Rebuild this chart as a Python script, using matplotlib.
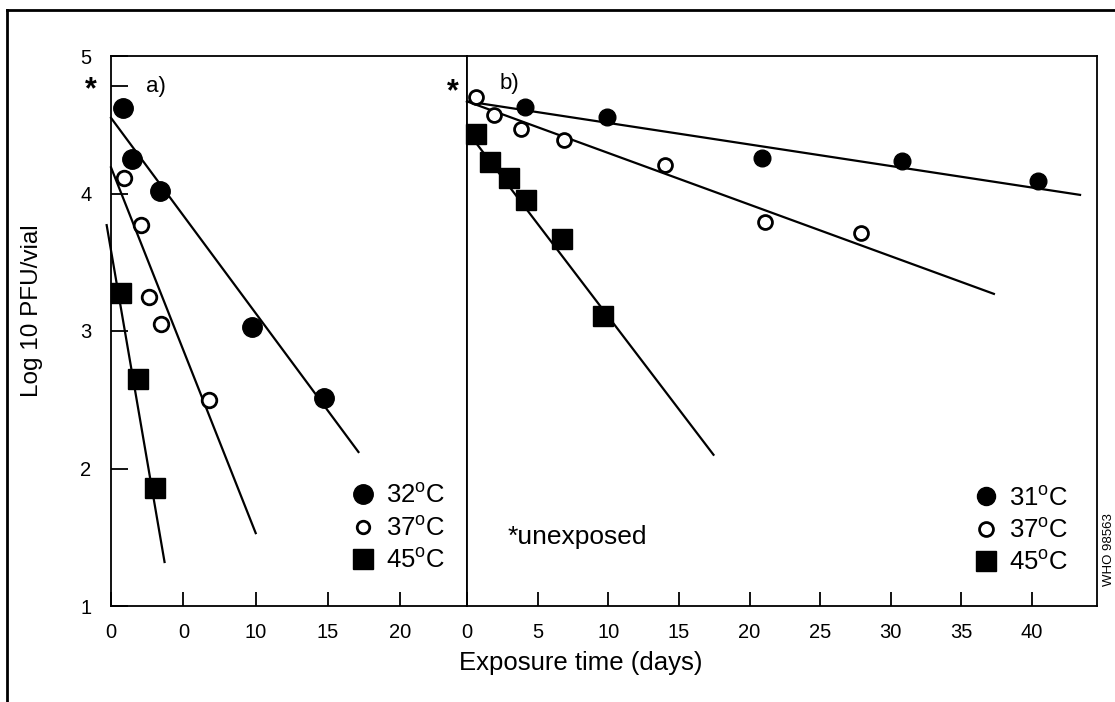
import matplotlib.pyplot as plt
from matplotlib.lines import Line2D

plt.rcParams['font.family'] = ['Liberation Sans', 'DejaVu Sans']
plt.rcParams['mathtext.fontset'] = 'custom'
plt.rcParams['mathtext.rm'] = 'Liberation Sans'

# Panel a) data
a32_x = [0.8, 1.45, 3.4, 9.75, 14.7]
a32_y = [4.62, 4.25, 4.02, 3.03, 2.51]
a37_x = [0.9, 2.05, 2.6, 3.45, 6.75]
a37_y = [4.11, 3.77, 3.25, 3.05, 2.50]
a45_x = [0.7, 1.85, 3.05]
a45_y = [3.28, 2.65, 1.86]

# Panel a) fitted lines (start, end)
a32_fit_x = [0.0, 17.1]
a32_fit_y = [4.55, 2.12]
a37_fit_x = [0.0, 10.0]
a37_fit_y = [4.19, 1.53]
a45_fit_x = [-0.3, 3.7]
a45_fit_y = [3.77, 1.32]

# Panel b) data
b31_x = [4.1, 9.9, 20.9, 30.8, 40.4]
b31_y = [4.63, 4.56, 4.26, 4.24, 4.09]
b37_x = [0.65, 1.9, 3.85, 6.85, 14.05, 21.1, 27.9]
b37_y = [4.70, 4.57, 4.47, 4.39, 4.21, 3.79, 3.71]
b45_x = [0.65, 1.65, 3.0, 4.2, 6.75, 9.65]
b45_y = [4.43, 4.23, 4.11, 3.95, 3.67, 3.11]

b31_fit_x = [0.0, 43.4]
b31_fit_y = [4.67, 3.99]
b37_fit_x = [0.0, 37.3]
b37_fit_y = [4.67, 3.27]
b45_fit_x = [0.4, 17.45]
b45_fit_y = [4.40, 2.10]

unexposed = 4.78

a_ticks = [0, 5, 10, 15, 20]
a_ticklabels = ['0', '0', '10', '15', '20']
b_ticks = [0, 5, 10, 15, 20, 25, 30, 35, 40]
y_ticks = [1, 2, 3, 4, 5]

fig = plt.figure(figsize=(11.15, 7.02), dpi=100)
left, right, bottom, top = 111 / 1115, 1097 / 1115, 1 - 606 / 702, 1 - 56 / 702
split = 467 / 1115
ax_a = fig.add_axes([left, bottom, split - left, top - bottom])
ax_b = fig.add_axes([split, bottom, right - split, top - bottom])

for ax in (ax_a, ax_b):
    ax.set_ylim(1, 5)
    for s in ax.spines.values():
        s.set_linewidth(1.3)
    ax.tick_params(axis='x', direction='in', length=10, width=1.3, labelsize=14.5, pad=12)

ax_a.set_xlim(0, 24.6)
ax_b.set_xlim(0, 44.6)

ax_a.set_xticks(a_ticks)
ax_a.set_xticklabels(a_ticklabels)
ax_b.set_xticks(b_ticks)

ax_a.set_yticks(y_ticks)
ax_a.tick_params(axis='y', direction='in', length=12, width=1.3, labelsize=14.5, pad=14)
ax_a.set_yticks([unexposed], minor=True)
ax_a.set_yticklabels(['*'], minor=True, fontsize=22, fontweight='bold')
ax_a.tick_params(axis='y', which='minor', direction='in', length=12, width=1.3, pad=10)
ax_b.set_yticks([])

line_kw = dict(color='black', lw=1.6)
ax_a.plot(a32_fit_x, a32_fit_y, **line_kw)
ax_a.plot(a37_fit_x, a37_fit_y, **line_kw)
ax_a.plot(a45_fit_x, a45_fit_y, **line_kw)
ax_b.plot(b31_fit_x, b31_fit_y, **line_kw)
ax_b.plot(b37_fit_x, b37_fit_y, **line_kw)
ax_b.plot(b45_fit_x, b45_fit_y, **line_kw)

ax_a.plot(a32_x, a32_y, ls='none', marker='o', ms=14, mfc='black', mec='black')
ax_a.plot(a37_x, a37_y, ls='none', marker='o', ms=10.5, mfc='white', mec='black', mew=2)
ax_a.plot(a45_x, a45_y, ls='none', marker='s', ms=14.5, mfc='black', mec='black')
ax_b.plot(b31_x, b31_y, ls='none', marker='o', ms=12, mfc='black', mec='black')
ax_b.plot(b37_x, b37_y, ls='none', marker='o', ms=10, mfc='white', mec='black', mew=2)
ax_b.plot(b45_x, b45_y, ls='none', marker='s', ms=14.5, mfc='black', mec='black')

for ax in (ax_a, ax_b):
    for l in ax.lines:
        l.set_clip_on(False)

ax_a.text(2.4, unexposed, 'a)', fontsize=16, va='center')
ax_b.text(2.3, unexposed + 0.02, 'b)', fontsize=16, va='center')
ax_b.text(-0.6, unexposed - 0.04, '*', fontsize=22, fontweight='bold', ha='right', va='center')
ax_b.text(2.9, 1.5, '*unexposed', fontsize=19, va='center')


def legend(ax, labels, anchor, sizes):
    h = [Line2D([], [], ls='none', marker='o', ms=sizes[0], mfc='black', mec='black'),
         Line2D([], [], ls='none', marker='o', ms=sizes[1], mfc='white', mec='black', mew=2),
         Line2D([], [], ls='none', marker='s', ms=sizes[2], mfc='black', mec='black')]
    ax.legend(h, labels, loc='lower right', bbox_to_anchor=anchor, frameon=False,
              fontsize=18.5, handlelength=0.9, handletextpad=0.45, labelspacing=0.3,
              borderaxespad=0, borderpad=0)


deg = '$^{\\mathrm{o}}$'
legend(ax_a, ['32' + deg + 'C', '37' + deg + 'C', '45' + deg + 'C'], (0.94, 0.06), (14, 9, 15))
legend(ax_b, ['31' + deg + 'C', '37' + deg + 'C', '45' + deg + 'C'], (0.955, 0.056), (13, 10, 14))

fig.text(581 / 1115, 1 - 663 / 702, 'Exposure time (days)', fontsize=18.5, ha='center', va='center')
fig.text(32 / 1115, 1 - 311 / 702, 'Log 10 PFU/vial', fontsize=17.5, rotation=90,
         ha='center', va='center')
fig.text(1109 / 1115, 1 - 550 / 702, 'WHO 98563', fontsize=9.5, rotation=90,
         ha='center', va='center')

# outer frame of the scanned figure
fig.add_artist(Line2D([7 / 1115, 7 / 1115], [0, 1 - 10 / 702], color='black', lw=2))
fig.add_artist(Line2D([7 / 1115, 1], [1 - 10 / 702, 1 - 10 / 702], color='black', lw=2))

fig.savefig('out.png', dpi=100)
